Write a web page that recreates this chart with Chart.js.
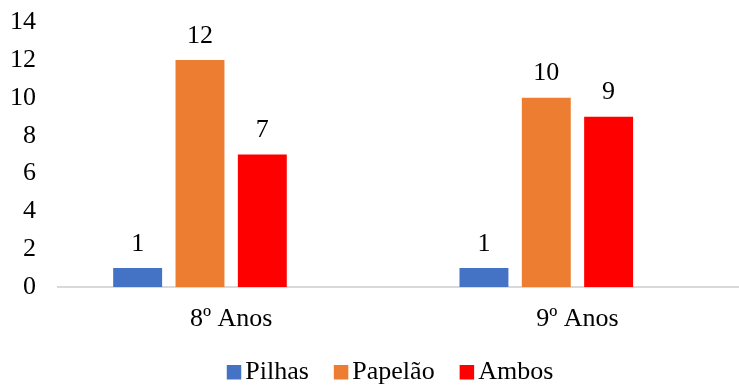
<!DOCTYPE html>
<html>
<head>
<meta charset="utf-8">
<script src="https://cdn.jsdelivr.net/npm/chart.js@4/dist/chart.umd.min.js"></script>
<style>
  html, body { margin: 0; padding: 0; background: #ffffff; }
  #wrap { width: 739px; height: 385px; overflow: hidden; position: relative; }
  canvas { display: block; }
</style>
</head>
<body>
<div id="wrap"><canvas id="chart" width="780" height="385" style="width:780px;height:385px"></canvas></div>
<script>
// Categories and series
const categories = ['8º Anos', '9º Anos'];
const pilhas  = [1, 1];
const papelao = [12, 10];
const ambos   = [7, 9];
// Empty fourth series slot (no values), keeps the grouping spacing
const vazio   = [null, null];

const seriesNames  = ['Pilhas', 'Papelão', 'Ambos'];
const seriesColors = ['#4472C4', '#ED7D31', '#FF0000'];

const yTicks = [0, 2, 4, 6, 8, 10, 12, 14];

const FONT_FAMILY = "'Liberation Serif', 'Times New Roman', serif";
const FONT_SIZE = 26;

// Value labels above each bar
const valueLabels = {
  id: 'valueLabels',
  afterDatasetsDraw(chart) {
    const ctx = chart.ctx;
    ctx.save();
    ctx.font = FONT_SIZE + 'px ' + FONT_FAMILY;
    ctx.fillStyle = '#000000';
    ctx.textAlign = 'center';
    ctx.textBaseline = 'alphabetic';
    chart.data.datasets.forEach((ds, i) => {
      if (!ds.showValues) return;
      const meta = chart.getDatasetMeta(i);
      meta.data.forEach((bar, j) => {
        const v = ds.data[j];
        if (v === null || v === undefined) return;
        ctx.fillText(String(v), bar.x, bar.y - 17.5);
      });
    });
    ctx.restore();
  }
};

// Legend row along the bottom: square swatch followed closely by the name
const bottomLegend = {
  id: 'bottomLegend',
  afterDraw(chart) {
    const ctx = chart.ctx;
    ctx.save();
    ctx.font = FONT_SIZE + 'px ' + FONT_FAMILY;
    const box = 14.5, boxGap = 4, itemGap = 25;
    const widths = seriesNames.map(n => ctx.measureText(n).width);
    let total = 0;
    widths.forEach((w, i) => { total += box + boxGap + w + (i < widths.length - 1 ? itemGap : 0); });
    let x = chart.width / 2 - total / 2;
    const baseline = 379.3;
    ctx.textBaseline = 'alphabetic';
    ctx.textAlign = 'left';
    seriesNames.forEach((name, i) => {
      ctx.fillStyle = seriesColors[i];
      ctx.fillRect(x, 365, box, box);
      ctx.fillStyle = '#000000';
      ctx.fillText(name, x + box + boxGap, baseline);
      x += box + boxGap + widths[i] + itemGap;
    });
    ctx.restore();
  }
};

const barOpts = { categoryPercentage: 0.72, barPercentage: 0.785, borderWidth: 0 };

new Chart(document.getElementById('chart'), {
  type: 'bar',
  data: {
    labels: categories,
    datasets: [
      Object.assign({ label: seriesNames[0], data: pilhas,  backgroundColor: seriesColors[0], showValues: true }, barOpts),
      Object.assign({ label: seriesNames[1], data: papelao, backgroundColor: seriesColors[1], showValues: true }, barOpts),
      Object.assign({ label: seriesNames[2], data: ambos,   backgroundColor: seriesColors[2], showValues: true }, barOpts),
      Object.assign({ label: '', data: vazio, backgroundColor: 'rgba(0,0,0,0)', showValues: false }, barOpts)
    ]
  },
  options: {
    responsive: false,
    animation: false,
    devicePixelRatio: 1,
    layout: { padding: { top: 22.2, right: 29.4, bottom: 48, left: 0 } },
    plugins: {
      legend: { display: false },
      tooltip: { enabled: false }
    },
    scales: {
      x: {
        grid: { display: false, drawTicks: false },
        border: { display: true, color: '#D9D9D9', width: 2 },
        ticks: {
          color: '#000000',
          font: { family: FONT_FAMILY, size: FONT_SIZE },
          padding: 17,
          maxRotation: 0
        },
        afterFit(scale) {
          scale.height = 50;
          scale.paddingLeft = 0;
          scale.paddingRight = 0;
        }
      },
      y: {
        min: 0,
        max: 14,
        grid: { display: false, drawTicks: false },
        border: { display: false },
        afterBuildTicks(scale) { scale.ticks = yTicks.map(v => ({ value: v })); },
        ticks: {
          color: '#000000',
          font: { family: FONT_FAMILY, size: FONT_SIZE },
          padding: 22
        },
        afterFit(scale) {
          scale.width = 58;
          scale.paddingTop = 0;
          scale.paddingBottom = 0;
        }
      }
    }
  },
  plugins: [valueLabels, bottomLegend]
});
</script>
</body>
</html>
